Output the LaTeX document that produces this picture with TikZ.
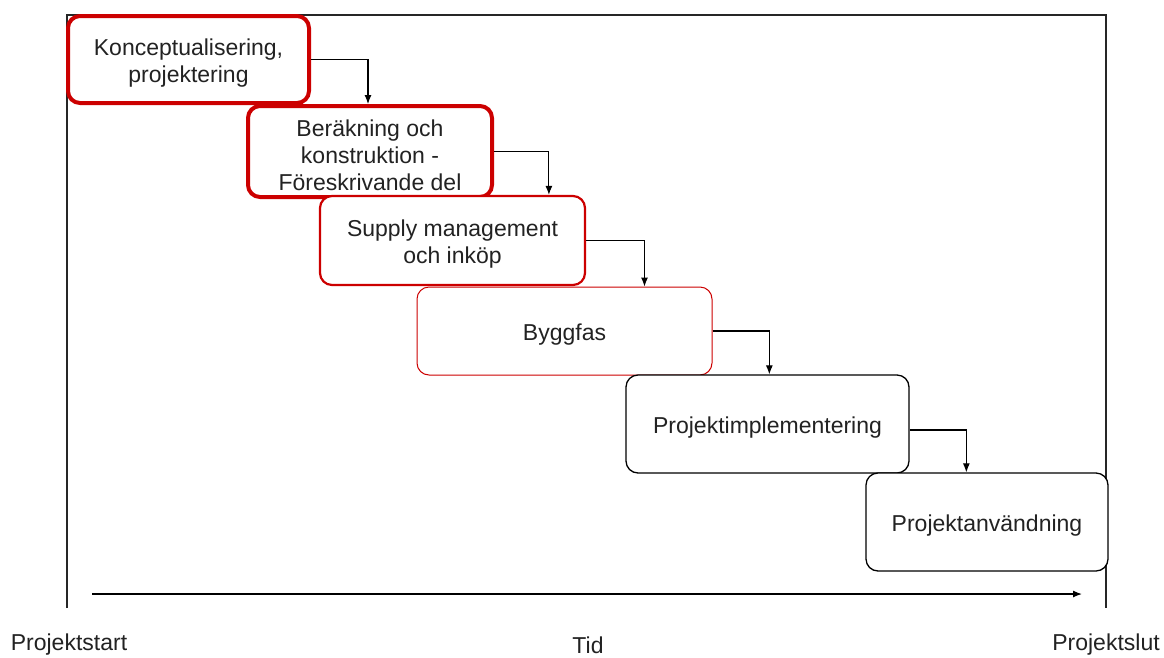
\documentclass[tikz,border=0pt]{standalone}
\usepackage{fontspec}
\setmainfont{Liberation Sans}
\usetikzlibrary{arrows.meta,calc}
\definecolor{phasered}{HTML}{CC0000}
\definecolor{inkgray}{HTML}{222222}
\begin{document}
\begin{tikzpicture}[x=1pt,y=-1pt,
  every node/.style={font=\fontsize{23}{27}\selectfont, text=inkgray, align=center},
  phase/.style={draw, fill=white, rounded corners=12pt, inner sep=0pt},
  heavy/.style={phase, draw=phasered, line width=4pt},
  medium/.style={phase, draw=phasered, line width=2.2pt},
  light/.style={phase, draw=phasered, line width=1pt},
  plain/.style={phase, draw=black, line width=1.3pt},
  caption/.style={label={[yshift=-4pt, align=center]center:#1}},
  link/.style={draw=black, line width=1.1pt, -{Latex[length=9pt,width=7pt]}},
  frame/.style={draw=black!85, line width=1.5pt}]
\useasboundingbox (0,0) rectangle (1164,657);

% project frame: start and end lines joined at the top
\coordinate (fs) at (67,608);
\coordinate (fe) at (1106,608);
\draw[frame] (fs) -- (67,15) -- (1106,15) -- (fe);

% phases (text set slightly below the box centre)
\node[heavy, minimum width=241pt, minimum height=87pt, caption={Konceptualisering,\\projektering}] (p1) at (188.5,59.5) {};
\node[heavy, minimum width=244pt, minimum height=91pt, caption={Beräkning och\\konstruktion -\\Föreskrivande del}] (p2) at (370,151.5) {};
\node[medium, minimum width=265pt, minimum height=89pt, caption={Supply management\\och inköp}] (p3) at (452.5,240.5) {};
\node[light, minimum width=295pt, minimum height=88pt, caption={Byggfas}] (p4) at (564.5,331) {};
\node[plain, minimum width=283pt, minimum height=98pt, caption={Projektimplementering}] (p5) at (767.5,424) {};
\node[plain, minimum width=242pt, minimum height=98pt, caption={Projektanvändning}] (p6) at (987,522) {};

% step connectors
\draw[link] (p1.east) -| ([xshift=122pt]p2.north west);
\draw[link] (p2.east) -| ([xshift=230pt]p3.north west);
\draw[link] (p3.east) -| ([xshift=228pt]p4.north west);
\draw[link] (p4.east) -| ([xshift=144pt]p5.north west);
\draw[link] ([yshift=-6pt]p5.east) -| ([xshift=101pt]p6.north west);

% time axis
\coordinate (t0) at (92,594);
\coordinate (t1) at (1082,594);
\draw[link, line width=1.3pt] (t0) -- (t1);

\node (start) at (69,645) {Projektstart};
\node (tid) at (588,645) {Tid};
\node (slut) at (1106,645) {Projektslut};
\end{tikzpicture}
\end{document}
